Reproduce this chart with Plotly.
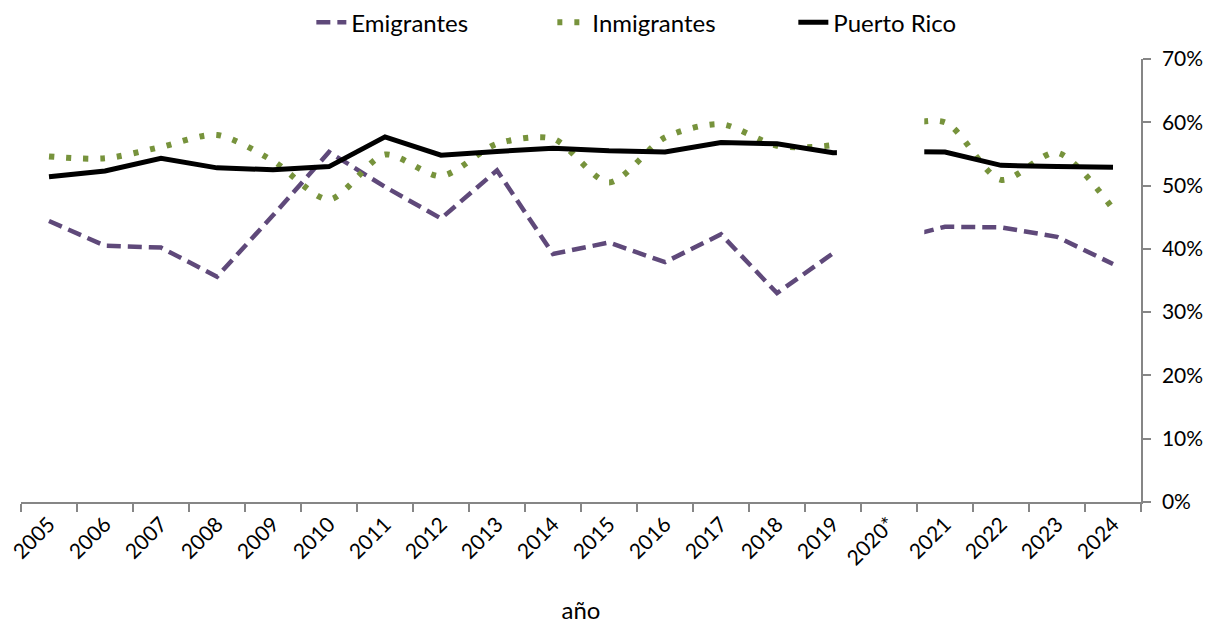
import plotly.graph_objects as go

years = ["2005", "2006", "2007", "2008", "2009", "2010", "2011", "2012", "2013", "2014",
         "2015", "2016", "2017", "2018", "2019", "2020*", "2021", "2022", "2023", "2024"]

emigrantes = [44.4, 40.5, 40.2, 35.6, 45.3, 55.3, 49.8, 44.8, 52.4, 39.2,
              41.0, 37.9, 42.3, 33.0, 39.3, 41.2, 43.5, 43.4, 41.9, 37.6]
inmigrantes = [54.6, 54.3, 56.1, 58.0, 53.9, 47.8, 54.9, 51.5, 56.6, 57.4,
               50.5, 57.6, 59.7, 56.3, 56.4, 59.0, 60.0, 50.9, 55.2, 46.3]
puerto_rico = [51.4, 52.3, 54.3, 52.8, 52.5, 53.0, 57.7, 54.8, 55.4, 55.9,
               55.5, 55.3, 56.8, 56.6, 55.2, 55.4, 55.3, 53.2, 53.0, 52.9]

y_ticks = [0, 10, 20, 30, 40, 50, 60, 70]

FONT = "Lato"
fig = go.Figure()
fig.add_trace(go.Scatter(x=years, y=emigrantes, name="Emigrantes", mode="lines",
                         line=dict(color="#5F497A", width=4.5, dash="14px,7px")))
fig.add_trace(go.Scatter(x=years, y=inmigrantes, name="Inmigrantes", mode="lines",
                         line=dict(color="#77933C", width=6, dash="5px,12px", shape="spline", smoothing=0.8)))
fig.add_trace(go.Scatter(x=years, y=puerto_rico, name="Puerto Rico", mode="lines",
                         line=dict(color="#000000", width=5)))

# white mask hiding the 2020 segment
fig.add_shape(type="rect", xref="x", yref="y", x0=14.07, x1=15.63, y0=0.4, y1=72,
              fillcolor="white", line=dict(width=0), layer="above")

# page body adds an 8px offset, so the figure is sized to fit the window
fig.update_layout(
    width=1206, height=618,
    margin=dict(l=13, r=73, t=51, b=124, autoexpand=False),
    paper_bgcolor="white", plot_bgcolor="white",
    font=dict(family=FONT, size=24, color="#000000"),
    showlegend=True,
    legend=dict(orientation="h", x=0.582, xanchor="center", y=1.082, yanchor="middle",
                font=dict(size=24), entrywidth=196, traceorder="normal"),
    xaxis=dict(type="category", categoryorder="array", categoryarray=years,
               range=[-0.5, 19.5], tickangle=-45, tickson="boundaries",
               ticks="outside", ticklen=8, tickwidth=1.5, tickcolor="#868686",
               showline=True, linecolor="#868686", linewidth=1.5, showgrid=False,
               zeroline=False, tickfont=dict(size=21), automargin=False,
               title=dict(text="año", font=dict(size=24), standoff=34)),
    yaxis=dict(side="right", range=[0, 70], tickvals=y_ticks,
               ticktext=[f"{v}%" for v in y_ticks],
               ticks="outside", ticklen=8, tickwidth=1.5, tickcolor="#868686",
               showline=True, linecolor="#868686", linewidth=1.5, showgrid=False,
               zeroline=False, tickfont=dict(size=21), automargin=False,
               ticklabelstandoff=7),
)

fig.write_html("out.html")
